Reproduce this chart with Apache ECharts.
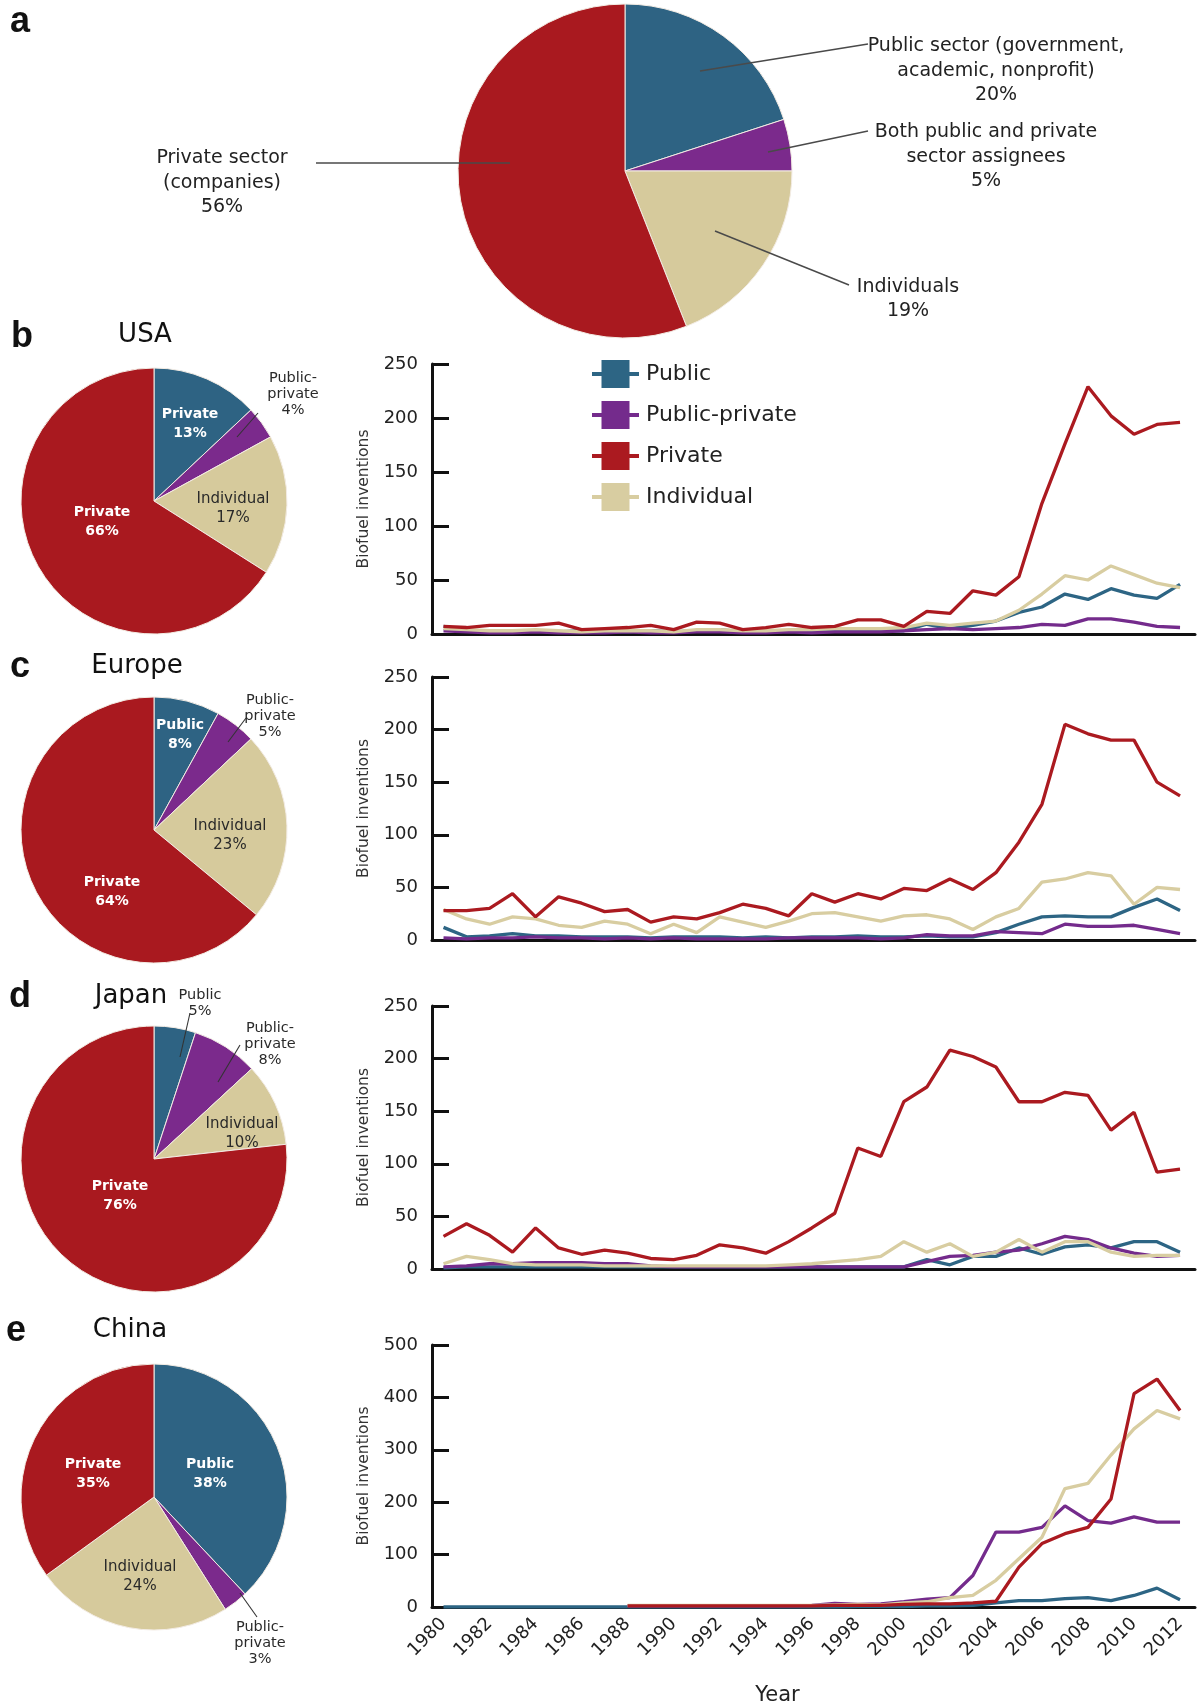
<!DOCTYPE html>
<html lang="en">
<head>
  <meta charset="UTF-8">
  <script src="https://cdn.jsdelivr.net/npm/echarts@6/dist/echarts.min.js"></script>
  <style>
    body { margin: 0; background: #fff; }
    #main { width: 1199px; height: 1707px; }
  </style>
  <title>Biofuel inventions by assignee type</title>
</head>
<body>
  <div id="main"></div>
  <script>
    // ---- data ----
    const groups = ['Public', 'Public-private', 'Private', 'Individual'];
    const pieCats = ['Public', 'Public-private', 'Individual', 'Private'];

    const allNames = ['Public sector (government,\nacademic, nonprofit)', 'Both public and private\nsector assignees', 'Individuals', 'Private sector\n(companies)'];
    const allShares = [20, 5, 19, 56];

    const usaShares = [13, 4, 17, 66];
    const usaLabels = ['Private', 'Public-\nprivate', 'Individual', 'Private'];
    const eurShares = [8, 5, 23, 64];
    const eurLabels = ['Public', 'Public-\nprivate', 'Individual', 'Private'];
    const jpnShares = [5, 8, 10, 76];
    const jpnLabels = ['Public', 'Public-\nprivate', 'Individual', 'Private'];
    const chnShares = [38, 3, 24, 35];
    const chnLabels = ['Public', 'Public-\nprivate', 'Individual', 'Private'];

    const years = [1980, 1981, 1982, 1983, 1984, 1985, 1986, 1987, 1988, 1989, 1990,
      1991, 1992, 1993, 1994, 1995, 1996, 1997, 1998, 1999, 2000,
      2001, 2002, 2003, 2004, 2005, 2006, 2007, 2008, 2009, 2010, 2011, 2012];
    const tickYears = [1980, 1982, 1984, 1986, 1988, 1990, 1992, 1994, 1996, 1998,
      2000, 2002, 2004, 2006, 2008, 2010, 2012];

    const usaPublic = [7, 3, 3, 2, 3, 2, 3, 2, 2, 3, 2, 3, 4, 2, 3, 3, 3, 4, 3, 3, 3, 9, 5, 8, 12, 20, 25, 37, 32, 42, 36, 33, 46];
    const usaPubPriv = [3, 2, 1, 1, 2, 1, 1, 1, 2, 1, 1, 2, 2, 1, 1, 2, 1, 2, 2, 2, 3, 4, 5, 4, 5, 6, 9, 8, 14, 14, 11, 7, 6];
    const usaPrivate = [7, 6, 8, 8, 8, 10, 4, 5, 6, 8, 4, 11, 10, 4, 6, 9, 6, 7, 13, 13, 7, 21, 19, 40, 36, 53, 121, 176, 229, 202, 185, 194, 196];
    const usaIndiv = [5, 4, 3, 3, 4, 3, 2, 3, 3, 3, 2, 4, 4, 3, 3, 4, 4, 5, 5, 5, 6, 10, 8, 10, 12, 22, 37, 54, 50, 63, 55, 47, 43];

    const eurPublic = [12, 3, 4, 6, 4, 4, 3, 3, 3, 2, 3, 3, 3, 2, 3, 2, 3, 3, 4, 3, 3, 4, 3, 3, 7, 15, 22, 23, 22, 22, 31, 39, 28];
    const eurPubPriv = [2, 1, 2, 2, 3, 2, 2, 1, 2, 1, 2, 1, 1, 1, 1, 2, 2, 2, 2, 1, 2, 5, 4, 4, 8, 7, 6, 15, 13, 13, 14, 10, 6];
    const eurPrivate = [28, 28, 30, 44, 22, 41, 35, 27, 29, 17, 22, 20, 26, 34, 30, 23, 44, 36, 44, 39, 49, 47, 58, 48, 64, 93, 129, 205, 196, 190, 190, 150, 137];
    const eurIndiv = [29, 20, 15, 22, 20, 14, 12, 18, 15, 6, 15, 7, 22, 17, 12, 18, 25, 26, 22, 18, 23, 24, 20, 10, 22, 30, 55, 58, 64, 61, 34, 50, 48];

    const jpnPublic = [1, 2, 2, 2, 2, 2, 2, 2, 2, 2, 2, 2, 2, 2, 2, 2, 2, 2, 2, 2, 2, 9, 4, 12, 12, 20, 14, 21, 23, 20, 26, 26, 16];
    const jpnPubPriv = [2, 3, 5, 5, 6, 6, 6, 5, 5, 3, 2, 2, 2, 2, 2, 2, 2, 2, 2, 2, 2, 7, 12, 13, 16, 18, 24, 31, 28, 20, 15, 12, 13];
    const jpnPrivate = [31, 43, 32, 16, 39, 20, 14, 18, 15, 10, 9, 13, 23, 20, 15, 26, 39, 53, 115, 107, 159, 173, 208, 202, 192, 159, 159, 168, 165, 132, 149, 92, 95];
    const jpnIndiv = [5, 12, 9, 5, 4, 4, 4, 3, 3, 3, 3, 3, 3, 3, 3, 4, 5, 7, 9, 12, 26, 16, 24, 12, 16, 28, 16, 26, 26, 16, 12, 13, 13];

    const chnPublic = [0, 0, 0, 0, 0, 0, 0, 0, 0, 0, 0, 0, 0, 0, 0, 0, 0, 0, 1, 1, 1, 2, 2, 3, 8, 12, 12, 16, 18, 12, 22, 36, 14];
    const chnPubPriv = [null, null, null, null, null, null, null, null, 2, 2, 2, 2, 2, 2, 2, 2, 3, 7, 5, 6, 10, 15, 18, 60, 143, 143, 152, 193, 165, 160, 172, 162, 162];
    const chnPrivate = [null, null, null, null, null, null, null, null, 2, 2, 2, 2, 2, 2, 2, 2, 2, 3, 3, 3, 5, 6, 6, 8, 11, 76, 121, 140, 152, 206, 407, 435, 375];
    const chnIndiv = [null, null, null, null, null, null, null, null, 3, 3, 3, 3, 3, 3, 3, 3, 3, 4, 5, 4, 8, 10, 18, 22, 51, 92, 133, 226, 236, 290, 340, 375, 359];
  </script>

  <script>
    var font = '"DejaVu Sans", Verdana, sans-serif';
    var colors = {
      'Public': '#2d6584',
      'Public-private': '#742b8c',
      'Private': '#ab1a20',
      'Individual': '#d8cda1'
    };
    var sliceColors = ['#2e6383', '#7b2a8c', '#d6ca9c', '#a9191f'];
    var sliceText = ['#fff', '#2a2a2a', '#2a2a2a', '#fff'];

    var myChart = echarts.init(document.getElementById('main'));

    // pie with hand placed labels (positions in pixels)
    function pieSeries(center, radius, shares, labels, pos, outside, opts) {
      return {
        type: 'pie',
        center: center,
        radius: radius,
        startAngle: 90,
        clockwise: true,
        avoidLabelOverlap: false,
        silent: true,
        itemStyle: { borderColor: '#f3ece4', borderWidth: 1 },
        data: pieCats.map(function (c, i) {
          var white = !opts.names && !outside[i] && sliceText[i] === '#fff';
          return {
            name: opts.names ? opts.names[i] : c,
            value: shares[i],
            itemStyle: { color: sliceColors[i] },
            label: {
              color: opts.textColor || (outside[i] ? '#2a2a2a' : sliceText[i]),
              fontSize: outside[i] && !opts.names ? 14.5 : (white ? 14 : opts.fontSize),
              lineHeight: outside[i] && !opts.names ? 16 : opts.lineHeight,
              fontWeight: white ? 'bold' : 'normal'
            }
          };
        }),
        label: {
          show: true,
          position: 'outside',
          fontFamily: font,
          formatter: function (p) { return labels[p.dataIndex] + '\n' + p.value + '%'; }
        },
        labelLine: { show: false },
        labelLayout: function (p) {
          var i = p.dataIndex;
          return { x: pos[i][0], y: pos[i][1], align: 'center', verticalAlign: 'middle' };
        }
      };
    }

    var gridTops = [364, 677, 1006, 1345];
    var gridHeights = [270, 263, 263, 262];
    var yMax = [250, 250, 250, 500];
    var yStep = [50, 50, 50, 100];

    var grids = [], xAxes = [], yAxes = [];
    gridTops.forEach(function (t, i) {
      grids.push({ left: 432, right: 4, top: t, height: gridHeights[i] });
      var last = i === 3;
      xAxes.push({
        type: 'value', gridIndex: i, min: 1979.5, max: 2012.65,
        axisLine: { show: true, onZero: false, lineStyle: { color: '#111', width: 3 } },
        axisTick: { show: false },
        splitLine: { show: false },
        axisLabel: {
          show: last, customValues: tickYears, rotate: 45, margin: 14,
          fontSize: 18, color: '#222', fontFamily: font,
          formatter: function (v) { return String(v); }
        },
        name: last ? 'Year' : '',
        nameLocation: 'middle',
        nameGap: 78,
        nameTextStyle: { fontSize: 21, color: '#222', fontFamily: font, padding: [0, 72, 0, 0] }
      });
      yAxes.push({
        type: 'value', gridIndex: i, min: 0, max: yMax[i], interval: yStep[i],
        axisLine: { show: true, lineStyle: { color: '#111', width: 3 } },
        axisTick: { show: true, inside: true, length: 17, lineStyle: { color: '#111', width: 3 } },
        axisLabel: { fontSize: 18, color: '#222', margin: 14, fontFamily: font },
        splitLine: { show: false },
        name: 'Biofuel inventions',
        nameLocation: 'middle',
        nameGap: 60,
        nameTextStyle: { fontSize: 15.5, color: '#333', fontFamily: font }
      });
    });

    function lineSeries(name, idx, arr) {
      return {
        type: 'line', name: name, xAxisIndex: idx, yAxisIndex: idx,
        data: years.map(function (y, k) { return [y, arr[k]]; }),
        symbol: 'rect', symbolSize: 10, showSymbol: false,
        lineStyle: { width: 3.3, color: colors[name] },
        itemStyle: { color: colors[name] },
        silent: true
      };
    }

    var regions = [
      [usaPublic, usaPubPriv, usaIndiv, usaPrivate],
      [eurPublic, eurPubPriv, eurIndiv, eurPrivate],
      [jpnPublic, jpnPubPriv, jpnIndiv, jpnPrivate],
      [chnPublic, chnPubPriv, chnIndiv, chnPrivate]
    ];
    var drawOrder = ['Public', 'Public-private', 'Individual', 'Private'];
    var lines = [];
    regions.forEach(function (r, i) {
      drawOrder.forEach(function (n, k) { lines.push(lineSeries(n, i, r[k])); });
    });

    var pies = [
      pieSeries([625, 171], 167, allShares, allNames,
        [[996, 71], [986, 157], [908, 299], [222, 183]], [1, 1, 1, 1],
        { names: allNames, textColor: '#222', fontSize: 19, lineHeight: 24.5 }),
      pieSeries([154, 501], 133, usaShares, usaLabels,
        [[190, 424], [293, 394], [233, 509], [102, 522]], [0, 1, 0, 0],
        { fontSize: 15, lineHeight: 19 }),
      pieSeries([154, 830], 133, eurShares, eurLabels,
        [[180, 735], [270, 716], [230, 836], [112, 892]], [0, 1, 0, 0],
        { fontSize: 15, lineHeight: 19 }),
      pieSeries([154, 1159], 133, jpnShares, jpnLabels,
        [[200, 1003], [270, 1044], [242, 1134], [120, 1196]], [1, 1, 0, 0],
        { fontSize: 15, lineHeight: 19 }),
      pieSeries([154, 1497], 133, chnShares, chnLabels,
        [[210, 1474], [260, 1643], [140, 1577], [93, 1474]], [0, 1, 0, 0],
        { fontSize: 15, lineHeight: 19 })
    ];

    // leader lines from labels into the slices
    var leaders = [
      [[700, 71], [868, 44]], [[768, 152], [868, 131]], [[715, 231], [849, 285]], [[316, 163], [510, 163]],
      [[258, 413], [237, 437]],
      [[246, 718], [228, 742]],
      [[190, 1013], [180, 1057]], [[240, 1045], [218, 1082]],
      [[240, 1593], [257, 1617]]
    ];

    function txt(x, y, s, size, weight, family) {
      return {
        type: 'text', x: x, y: y, silent: true,
        style: { text: s, fontSize: size, fontWeight: weight || 'normal', fontFamily: family || font, fill: '#111', align: 'center', verticalAlign: 'middle' }
      };
    }

    var graphics = [
      txt(20, 22, 'a', 36, 'bold', '"Liberation Sans", Arial, sans-serif'),
      txt(22, 337, 'b', 36, 'bold', '"Liberation Sans", Arial, sans-serif'),
      txt(20, 667, 'c', 36, 'bold', '"Liberation Sans", Arial, sans-serif'),
      txt(20, 997, 'd', 36, 'bold', '"Liberation Sans", Arial, sans-serif'),
      txt(16, 1331, 'e', 36, 'bold', '"Liberation Sans", Arial, sans-serif'),
      txt(145, 335, 'USA', 26),
      txt(137, 666, 'Europe', 26),
      txt(131, 996, 'Japan', 26),
      txt(130, 1330, 'China', 26)
    ];
    leaders.forEach(function (pts, k) {
      graphics.push({
        type: 'polyline', silent: true, z: 100,
        shape: { points: pts },
        style: { stroke: k < 4 ? '#4a4a4a' : '#333', lineWidth: k < 4 ? 1.5 : 1.1, fill: null }
      });
    });

    var option = {
      animation: false,
      backgroundColor: '#fff',
      grid: grids,
      xAxis: xAxes,
      yAxis: yAxes,
      legend: {
        data: groups,
        orient: 'vertical',
        left: 585,
        top: 355,
        itemWidth: 47,
        itemHeight: 35,
        itemGap: 13,
        lineStyle: { width: 4 },
        selectedMode: false,
        textStyle: { fontSize: 22, color: '#222', fontFamily: font, padding: [0, 0, 0, 2] }
      },
      graphic: graphics,
      series: pies.concat(lines)
    };

    option && myChart.setOption(option);
  </script>
</body>
</html>
